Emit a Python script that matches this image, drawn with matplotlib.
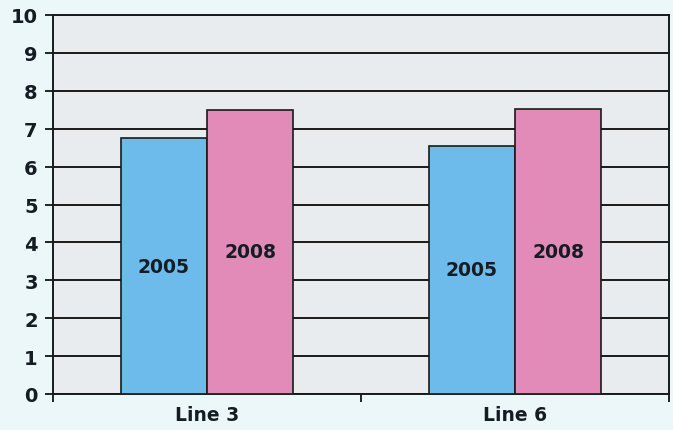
import matplotlib.pyplot as plt
import numpy as np

# ===== DATA =====
categories = ["Line 3", "Line 6"]
years = ["2005", "2008"]
values_2005 = [6.75, 6.55]
values_2008 = [7.5, 7.52]
yticks = list(range(0, 11))

# ===== STYLE =====
bg_fig = "#ecf7fa"
bg_axes = "#e8ecef"
blue = "#6dbbea"
pink = "#e38bb8"
text_col = "#161c24"

fig = plt.figure(figsize=(6.73, 4.31), dpi=100, facecolor=bg_fig)
ax = fig.add_axes([53 / 673, 1 - 395 / 431, 616 / 673, 379 / 431])
ax.set_facecolor(bg_axes)

x = np.arange(len(categories))
w = 0.28
b1 = ax.bar(x - w / 2, values_2005, w, color=blue, edgecolor="#1a1a1a", linewidth=1.2, zorder=3)
b2 = ax.bar(x + w / 2, values_2008, w, color=pink, edgecolor="#1a1a1a", linewidth=1.2, zorder=3)

# year labels in the middle of each bar
for bars, yr in [(b1, years[0]), (b2, years[1])]:
    for r in bars:
        ax.text(r.get_x() + r.get_width() / 2, r.get_height() / 2, yr,
                ha="center", va="center", fontsize=13.5, fontweight="bold",
                color=text_col, zorder=4)

ax.set_ylim(0, 10)
ax.set_xlim(-0.5, 1.5)
ax.set_yticks(yticks)
ax.yaxis.grid(True, color="#1a1a1a", linewidth=1.4, zorder=1)
ax.set_axisbelow(True)

# category labels centred, tick marks on the boundaries
ax.set_xticks([-0.5, 0.5, 1.5])
ax.set_xticklabels([])
ax.set_xticks(x, minor=True)
ax.set_xticklabels(categories, minor=True, fontsize=13.5, fontweight="bold", color=text_col)
ax.tick_params(axis="x", which="minor", length=0, pad=8)
ax.tick_params(axis="x", which="major", length=6, width=1.2, direction="out")
ax.tick_params(axis="y", length=6, width=1.2, direction="out", labelsize=14, pad=5,
               labelcolor=text_col)
for lbl in ax.get_yticklabels():
    lbl.set_fontweight("bold")

for s in ax.spines.values():
    s.set_color("#1a1a1a")
    s.set_linewidth(1.4)

fig.savefig("out.png", dpi=100, facecolor=bg_fig)
